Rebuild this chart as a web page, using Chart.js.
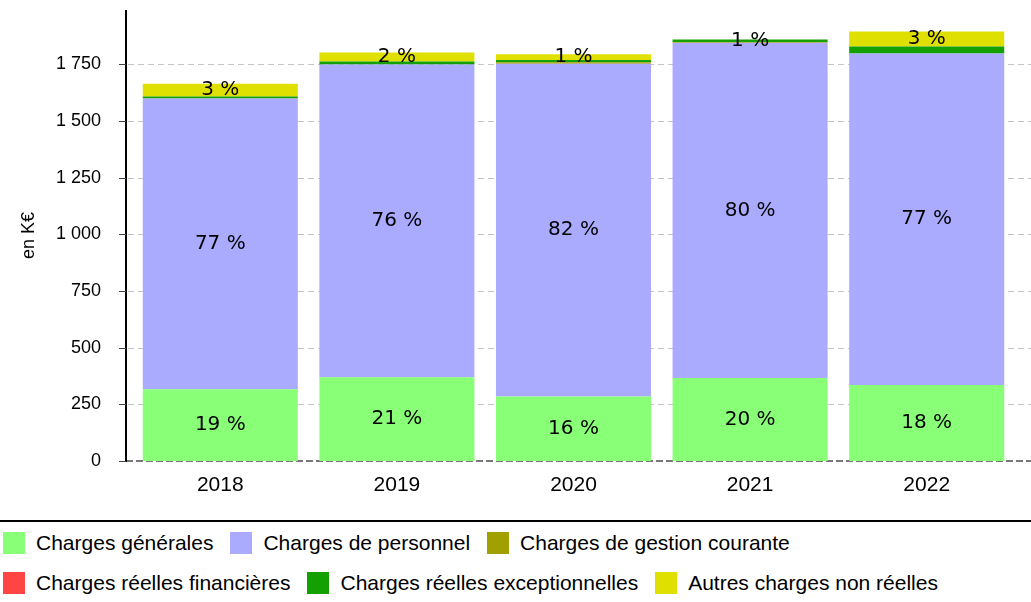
<!DOCTYPE html>
<html lang="fr">
<head>
<meta charset="utf-8">
<title>Charges de fonctionnement</title>
<script src="https://cdn.jsdelivr.net/npm/chart.js@4/dist/chart.umd.min.js"></script>
<style>
    body { margin: 0; background: #fff; font-family: "Liberation Sans", Arial, sans-serif; }
    #wrap { position: relative; width: 1031px; height: 520px; }
    #legend {
        width: 1031px; border-top: 2px solid #000; padding: 10px 0 0 3px;
        display: flex; flex-wrap: wrap; row-gap: 18px; box-sizing: border-box;
    }
    .item { display: flex; align-items: center; margin-right: 17px; height: 22px; font-size: 21px; color: #000; white-space: nowrap; }
    .box { width: 22px; height: 22px; margin-right: 11px; }
</style>
</head>
<body>
<div id="wrap"><canvas id="mainChart" width="1031" height="520"></canvas></div>
<div id="legend"></div>
<script>
var years = ['2018', '2019', '2020', '2021', '2022'];

var chargesGenerales = [317, 370, 285, 366, 335];
var chargesPersonnel = [1283, 1379, 1468, 1480, 1463];
var chargesGestion = [0, 0, 7, 3, 0];
var chargesFinancieres = [0, 0, 0, 0, 0];
var chargesExceptionnelles = [8, 14, 9, 11, 31];
var autresCharges = [57, 40, 26, 0, 66];

var yTicks = [0, 250, 500, 750, 1000, 1250, 1500, 1750];
var yMax = 1990;

function formatK(value) {
    // séparateur de milliers : espace
    return String(value).replace(/\B(?=(\d{3})+(?!\d))/g, ' ');
}

// grille pointillée, axe vertical et ligne de base
var axisLines = {
    id: 'axisLines',
    beforeDatasetsDraw: function (chart) {
        var ctx = chart.ctx;
        var y = chart.scales.y;
        var area = chart.chartArea;
        var axisX = area.left - 6;
        ctx.save();
        ctx.lineWidth = 1;
        yTicks.forEach(function (v) {
            if (v === 0) return;
            var py = Math.round(y.getPixelForValue(v)) + 0.5;
            ctx.strokeStyle = '#c4c4c4';
            ctx.setLineDash([6, 4]);
            ctx.beginPath();
            ctx.moveTo(axisX + 2, py);
            ctx.lineTo(chart.width, py);
            ctx.stroke();
        });
        var py0 = Math.round(y.getPixelForValue(0));
        ctx.strokeStyle = '#777';
        ctx.lineWidth = 2;
        ctx.setLineDash([7, 3]);
        ctx.beginPath();
        ctx.moveTo(axisX, py0);
        ctx.lineTo(chart.width, py0);
        ctx.stroke();
        ctx.restore();
    },
    afterDatasetsDraw: function (chart) {
        var ctx = chart.ctx;
        var y = chart.scales.y;
        var area = chart.chartArea;
        var axisX = area.left - 6;
        ctx.save();
        ctx.strokeStyle = '#000';
        ctx.lineWidth = 2;
        ctx.beginPath();
        ctx.moveTo(axisX, area.top);
        ctx.lineTo(axisX, area.bottom + 1);
        ctx.stroke();
        ctx.strokeStyle = '#444';
        ctx.lineWidth = 1;
        yTicks.forEach(function (v) {
            var py = Math.round(y.getPixelForValue(v)) + 0.5;
            ctx.beginPath();
            ctx.moveTo(axisX - 7, py);
            ctx.lineTo(axisX, py);
            ctx.stroke();
        });
        ctx.restore();
    }
};

// pourcentages dans les segments
var percentLabels = {
    id: 'percentLabels',
    afterDatasetsDraw: function (chart) {
        var ctx = chart.ctx;
        var datasets = chart.data.datasets;
        ctx.save();
        ctx.font = '20px "DejaVu Sans"';
        ctx.fillStyle = '#000';
        ctx.textAlign = 'center';
        ctx.textBaseline = 'middle';
        chart.data.labels.forEach(function (label, i) {
            var total = 0;
            datasets.forEach(function (ds) { total += ds.data[i]; });
            var placed = [];
            for (var d = datasets.length - 1; d >= 0; d--) {
                var v = datasets[d].data[i];
                if (!v) continue;
                var pct = Math.round(v / total * 100);
                if (pct < 1) continue;
                var bar = chart.getDatasetMeta(d).data[i];
                var cy = (bar.y + bar.base) / 2;
                var clash = placed.some(function (p) { return Math.abs(p - cy) < 16; });
                if (clash) continue;
                placed.push(cy);
                ctx.fillText(pct + ' %', bar.x, cy);
            }
        });
        ctx.restore();
    }
};

var mainChart = new Chart(document.getElementById('mainChart'), {
    type: 'bar',
    data: {
        labels: years,
        datasets: [
            { label: 'Charges générales', data: chargesGenerales, backgroundColor: '#88ff77' },
            { label: 'Charges de personnel', data: chargesPersonnel, backgroundColor: '#aaaaff' },
            { label: 'Charges de gestion courante', data: chargesGestion, backgroundColor: '#a0a000' },
            { label: 'Charges réelles financières', data: chargesFinancieres, backgroundColor: '#ff4444' },
            { label: 'Charges réelles exceptionnelles', data: chargesExceptionnelles, backgroundColor: '#14a000' },
            { label: 'Autres charges non réelles', data: autresCharges, backgroundColor: '#e0e000' }
        ]
    },
    options: {
        responsive: false,
        animation: false,
        layout: { padding: { top: 10, right: 16, left: 0, bottom: 0 } },
        datasets: { bar: { categoryPercentage: 1, barPercentage: 0.878, borderWidth: 0 } },
        plugins: {
            legend: { display: false },
            tooltip: { enabled: false }
        },
        scales: {
            x: {
                stacked: true,
                grid: { display: false, drawTicks: false },
                border: { display: false },
                ticks: { color: '#000', padding: 12, font: { family: '"Liberation Sans", Arial', size: 21 } },
                afterFit: function (scale) { scale.height = 59; }
            },
            y: {
                stacked: true,
                min: 0,
                max: yMax,
                grid: { display: false, drawTicks: false },
                border: { display: false },
                ticks: {
                    autoSkip: false,
                    color: '#000',
                    padding: 31,
                    font: { family: '"Liberation Sans", Arial', size: 18 },
                    callback: function (value) { return formatK(value); }
                },
                afterBuildTicks: function (scale) {
                    scale.ticks = yTicks.map(function (v) { return { value: v }; });
                },
                title: {
                    display: true,
                    text: 'en K€',
                    color: '#000',
                    padding: { top: 18, bottom: 0 },
                    font: { family: '"Liberation Sans", Arial', size: 18 }
                },
                afterFit: function (scale) {
                    scale.width = 132;
                    scale.paddingTop = 0;
                    scale.paddingBottom = 0;
                }
            }
        }
    },
    plugins: [axisLines, percentLabels]
});

// légende sous le graphique
var legend = document.getElementById('legend');
mainChart.data.datasets.forEach(function (ds) {
    var item = document.createElement('div');
    item.className = 'item';
    item.innerHTML = '<span class="box" style="background:' + ds.backgroundColor + '"></span>' + ds.label;
    legend.appendChild(item);
});
</script>
</body>
</html>
